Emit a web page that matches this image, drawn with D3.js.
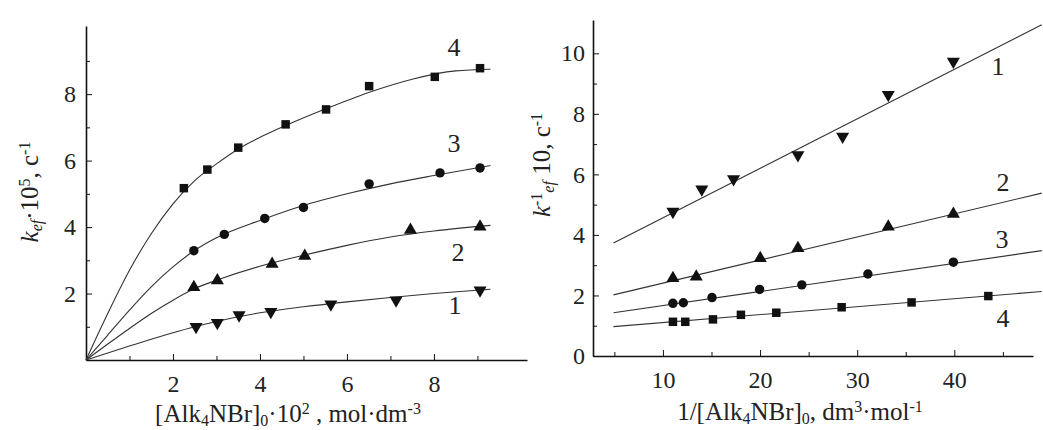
<!DOCTYPE html>
<html>
<head>
<meta charset="utf-8">
<script src="https://cdn.jsdelivr.net/npm/d3@7"></script>
<style>
  body { margin: 0; background: #fff; }
</style>
</head>
<body>
<div id="chart"></div>
<script>
const FONT = "'Liberation Serif', 'Times New Roman', 'DejaVu Serif', serif";

// ---- left panel: k_ef vs [Alk4NBr]0 ----
const seriesNames = ["1", "2", "3", "4"];
const leftPts = {
  "1": [[2.53, 1.0], [3.02, 1.12], [3.52, 1.35], [4.25, 1.45], [5.63, 1.68], [7.13, 1.80], [9.06, 2.1]],
  "2": [[2.48, 2.19], [3.02, 2.39], [4.28, 2.89], [5.03, 3.13], [7.46, 3.91], [9.06, 4.01]],
  "3": [[2.48, 3.29], [3.18, 3.78], [4.11, 4.26], [5.0, 4.59], [6.51, 5.30], [8.14, 5.63], [9.06, 5.78]],
  "4": [[2.25, 5.17], [2.79, 5.73], [3.50, 6.39], [4.59, 7.09], [5.52, 7.54], [6.51, 8.24], [8.02, 8.52], [9.06, 8.78]]
};
// fitted curves
const leftFit = {
  "1": [[0, 0], [1, 0.42], [2, 0.82], [2.5, 1.0], [3, 1.16], [4, 1.42], [5, 1.6], [6, 1.75], [7, 1.88], [8, 2.0], [9.3, 2.13]],
  "2": [[0, 0], [0.5, 0.48], [1, 0.95], [1.5, 1.4], [2, 1.8], [2.5, 2.15], [3, 2.4], [4, 2.82], [5, 3.15], [6, 3.45], [7, 3.7], [8, 3.88], [9.3, 4.05]],
  "3": [[0, 0], [0.5, 0.75], [1, 1.5], [1.5, 2.2], [2, 2.8], [2.5, 3.3], [3, 3.68], [4, 4.2], [5, 4.65], [6, 5.0], [7, 5.3], [8, 5.55], [9.3, 5.85]],
  "4": [[0, 0], [0.5, 1.4], [1, 2.7], [1.5, 3.8], [2, 4.7], [2.5, 5.4], [3, 5.9], [3.5, 6.35], [4.5, 7.0], [5.5, 7.55], [6.5, 8.05], [7.5, 8.45], [8.5, 8.7], [9.3, 8.75]]
};
const leftXTicks = [2, 4, 6, 8];
const leftXMinor = [1, 3, 5, 7, 9];
const leftYTicks = [2, 4, 6, 8];
const leftYMinor = [1, 3, 5, 7, 9];

// ---- right panel: 1/k_ef vs 1/[Alk4NBr]0 ----
const rightPts = {
  "1": [[11.03, 4.77], [14.0, 5.51], [17.27, 5.85], [23.9, 6.64], [28.5, 7.25], [33.2, 8.63], [39.9, 9.73]],
  "2": [[11.03, 2.57], [13.43, 2.62], [20.02, 3.23], [23.9, 3.56], [33.2, 4.27], [39.9, 4.69]],
  "3": [[11.03, 1.74], [12.1, 1.76], [15.05, 1.93], [19.95, 2.2], [24.3, 2.35], [31.1, 2.71], [39.9, 3.1]],
  "4": [[11.03, 1.13], [12.3, 1.13], [15.15, 1.21], [18.03, 1.36], [21.67, 1.43], [28.4, 1.61], [35.6, 1.77], [43.5, 1.98]]
};
const rightFit = {
  "1": [[4.91, 3.73], [49.0, 10.94]],
  "2": [[4.91, 2.02], [49.0, 5.38]],
  "3": [[4.91, 1.43], [49.0, 3.48]],
  "4": [[4.91, 0.97], [49.0, 2.13]]
};
const rightXTicks = [10, 20, 30, 40];
const rightXMinor = [5, 15, 25, 35, 45];
const rightYTicks = [0, 2, 4, 6, 8, 10];
const rightYMinor = [1, 3, 5, 7, 9];

const symbolOf = {
  "1": d3.symbolTriangle,
  "2": d3.symbolTriangle,
  "3": d3.symbolCircle,
  "4": d3.symbolSquare
};

const svg = d3.select("#chart").append("svg")
  .attr("width", 1043)
  .attr("height", 430)
  .style("font-family", FONT);

function styleAxis(a) {
  a.attr("font-family", FONT).attr("font-size", 24);
  a.selectAll("line").attr("stroke", "#111");
  a.selectAll("text").attr("fill", "#222").style("font-family", FONT);
}

function drawPanel(cfg) {
  const g = svg.append("g");
  const x = cfg.x, y = cfg.y;

  // minor ticks
  g.append("g")
    .attr("transform", `translate(0,${y.range()[0]})`)
    .call(d3.axisBottom(x).tickValues(cfg.xMinor).tickSize(-4).tickFormat(""))
    .call(a => a.select(".domain").remove())
    .call(styleAxis);
  g.append("g")
    .attr("transform", `translate(${x.range()[0]},0)`)
    .call(d3.axisLeft(y).tickValues(cfg.yMinor).tickSize(-4).tickFormat(""))
    .call(a => a.select(".domain").remove())
    .call(styleAxis);

  // major ticks + axis lines
  g.append("g")
    .attr("transform", `translate(0,${y.range()[0]})`)
    .call(d3.axisBottom(x).tickValues(cfg.xTicks).tickSize(-6).tickSizeOuter(0).tickPadding(cfg.xPad))
    .call(styleAxis)
    .call(a => a.select(".domain").attr("stroke", "#111").attr("stroke-width", 1.6));
  g.append("g")
    .attr("transform", `translate(${x.range()[0]},0)`)
    .call(d3.axisLeft(y).tickValues(cfg.yTicks).tickSize(-6).tickSizeOuter(0).tickPadding(cfg.yPad))
    .call(styleAxis)
    .call(a => a.select(".domain").attr("stroke", "#111").attr("stroke-width", 1.6));

  const line = d3.line()
    .x(d => x(d[0]))
    .y(d => y(d[1]))
    .curve(cfg.curve);

  seriesNames.forEach(s => {
    g.append("path")
      .datum(cfg.fit[s])
      .attr("d", line)
      .attr("fill", "none")
      .attr("stroke", "#333")
      .attr("stroke-width", 1.1);
  });

  seriesNames.forEach(s => {
    const sz = s === "4" ? 72 : (s === "3" ? 70 : 74);
    g.selectAll(null)
      .data(cfg.pts[s])
      .enter()
      .append("path")
      .attr("d", d3.symbol().type(symbolOf[s]).size(sz))
      .attr("transform", d => `translate(${x(d[0])},${y(d[1])})` + (s === "1" ? " rotate(180)" : ""))
      .attr("fill", "#111");
  });

  cfg.labels.forEach(l => {
    g.append("text")
      .attr("x", l.x).attr("y", l.y)
      .attr("text-anchor", "middle")
      .attr("font-size", 26)
      .attr("fill", "#222")
      .style("font-family", FONT)
      .text(l.t);
  });
}

const xL = d3.scaleLinear().domain([0, 10.14]).range([86, 527]);
const yL = d3.scaleLinear().domain([0, 10.05]).range([360, 26]);
drawPanel({
  x: xL, y: yL,
  xTicks: leftXTicks, xMinor: leftXMinor,
  yTicks: leftYTicks, yMinor: leftYMinor,
  xPad: 15, yPad: 10,
  pts: leftPts, fit: leftFit,
  curve: d3.curveMonotoneX,
  labels: [
    { t: "4", x: 454, y: 56 },
    { t: "3", x: 454, y: 152 },
    { t: "2", x: 458, y: 261 },
    { t: "1", x: 455, y: 314 }
  ]
});

const xR = d3.scaleLinear().domain([2.8, 48.1]).range([593, 1033]);
const yR = d3.scaleLinear().domain([0, 11.1]).range([356, 20]);
drawPanel({
  x: xR, y: yR,
  xTicks: rightXTicks, xMinor: rightXMinor,
  yTicks: rightYTicks, yMinor: rightYMinor,
  xPad: 15, yPad: 8,
  pts: rightPts, fit: rightFit,
  curve: d3.curveLinear,
  labels: [
    { t: "1", x: 998, y: 75 },
    { t: "2", x: 1003, y: 191 },
    { t: "3", x: 1002, y: 248 },
    { t: "4", x: 1003, y: 327 }
  ]
});

// axis titles with sub/superscripts
function richText(parent, parts, attrs) {
  const t = parent.append("text")
    .attr("font-size", 25)
    .attr("fill", "#222")
    .style("font-family", FONT);
  Object.entries(attrs).forEach(([k, v]) => t.attr(k, v));
  parts.forEach(p => {
    const ts = t.append("tspan").text(p.t);
    if (p.italic) ts.attr("font-style", "italic");
    if (p.sub) ts.attr("font-size", 16).attr("baseline-shift", "-25%");
    if (p.sup) ts.attr("font-size", 16).attr("baseline-shift", "50%");
  });
  return t;
}

richText(svg, [
  { t: "[Alk" }, { t: "4", sub: true }, { t: "NBr]" }, { t: "0", sub: true },
  { t: "·10" }, { t: "2", sup: true }, { t: " , mol·dm" }, { t: "-3", sup: true }
], { x: 288, y: 422, "text-anchor": "middle" });

richText(svg, [
  { t: "1/[Alk" }, { t: "4", sub: true }, { t: "NBr]" }, { t: "0", sub: true },
  { t: ", dm" }, { t: "3", sup: true }, { t: "·mol" }, { t: "-1", sup: true }
], { x: 800, y: 420, "text-anchor": "middle" });

richText(svg, [
  { t: "k", italic: true }, { t: "ef", italic: true, sub: true },
  { t: "·10" }, { t: "5", sup: true }, { t: ", c" }, { t: "-1", sup: true }
], { "text-anchor": "middle", transform: "translate(38,192) rotate(-90)" });

richText(svg, [
  { t: "k", italic: true }, { t: "-1", sup: true }, { t: "ef", italic: true, sub: true },
  { t: " 10, c" }, { t: "-1", sup: true }
], { "text-anchor": "middle", transform: "translate(550,165) rotate(-90)" });
</script>
</body>
</html>
